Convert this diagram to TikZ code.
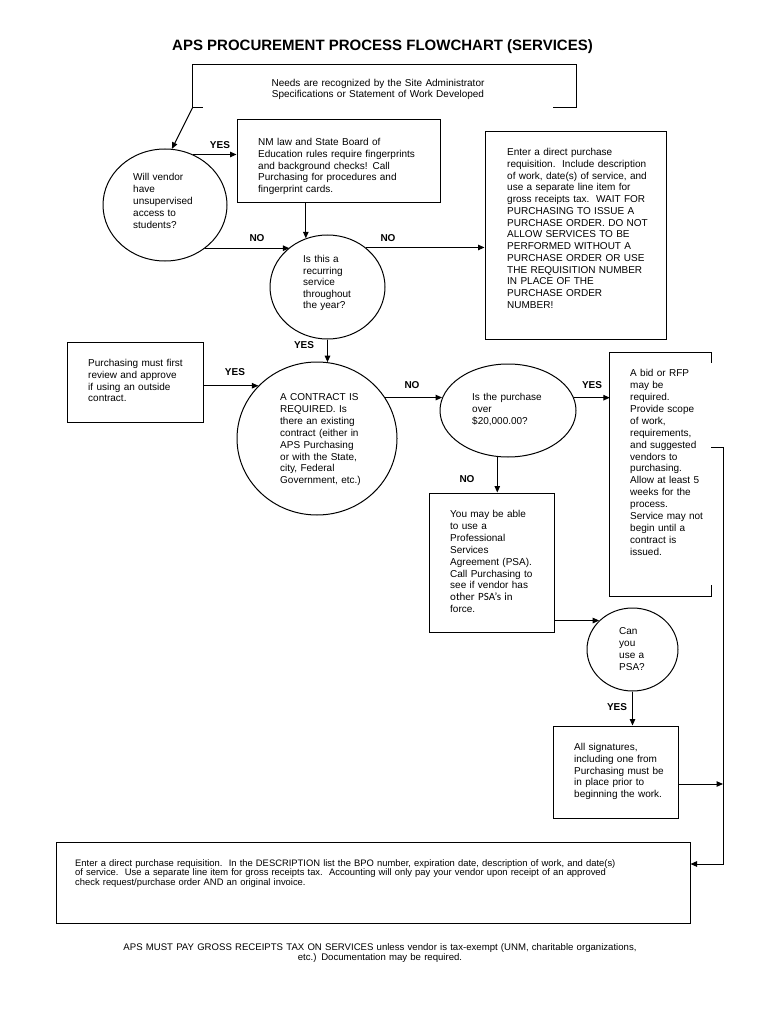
\documentclass[tikz,border=0pt]{standalone}
\usepackage{fontspec}
\setmainfont{Liberation Sans}
\newfontfamily\calfont{Carlito}
\usetikzlibrary{shapes.geometric,arrows.meta,calc}
\begin{document}
\begin{tikzpicture}[x=1pt,y=-1pt,
  ln/.style={line width=1pt},
  arr/.style={ln,-{Triangle[length=6.5pt,width=5.5pt]}},
  box/.style={draw,ln,rectangle,inner sep=0pt},
  oval/.style={draw,ln,ellipse,inner sep=0pt},
  ghost/.style={rectangle,inner sep=0pt},
  txt/.style={inner sep=0pt,anchor=base west,align=left,text width=#1,font=\fontsize{10}{11.8}\selectfont},
  txt/.default=200pt,
  lab/.style={inner sep=0pt,font=\fontsize{10}{12}\selectfont\bfseries}
]
\useasboundingbox (0,0) rectangle (768,1024);
\fill[white] (0,0) rectangle (768,1024);

% title
\node[inner sep=0pt,anchor=base,font=\fontsize{15}{18}\selectfont\bfseries] (title) at (382.5,51) {APS PROCUREMENT PROCESS FLOWCHART (SERVICES)};

% needs bracket
\node[ghost,minimum width=383pt,minimum height=42pt] (needs) at (384.5,86) {};
\draw[ln] ($(needs.south west)+(10,0)$) -- (needs.south west) -- (needs.north west) -- (needs.north east) -- (needs.south east) -- ++(-23,0);
\node[txt=300pt,align=center,anchor=base,font=\fontsize{10}{11}\selectfont] (needst) at (378,87) {Needs are recognized by the Site Administrator\\Specifications or Statement of Work Developed};

% shapes
\node[oval,minimum width=124pt,minimum height=112pt] (c1) at (165,205) {};
\node[box,minimum width=203pt,minimum height=83pt] (nm) at (338.5,161.5) {};
\node[oval,minimum width=115pt,minimum height=104pt] (c2) at (327.5,287) {};
\node[box,minimum width=181pt,minimum height=207pt] (bigr) at (575.5,235.5) {};
\node[box,minimum width=136pt,minimum height=80pt] (lb) at (135,382) {};
\node[oval,minimum width=160pt,minimum height=153pt] (cont) at (317,438.5) {};
\node[oval,minimum width=136pt,minimum height=93pt] (pur) at (508,410.5) {};
\node[ghost,minimum width=101pt,minimum height=243pt] (bid) at (660.5,474.5) {};
\draw[ln] ($(bid.north east)+(0,10)$) -- (bid.north east) -- (bid.north west) -- (bid.south west) -- (bid.south east) -- ++(0,-11);
\node[box,minimum width=125pt,minimum height=139pt] (psab) at (491.5,562.5) {};
\node[oval,minimum width=91pt,minimum height=83pt] (psac) at (632.5,649.5) {};
\node[box,minimum width=125pt,minimum height=92pt] (sig) at (615.5,772) {};
\node[box,minimum width=634pt,minimum height=81pt] (bot) at (373,882.5) {};

% texts
\node[txt] (c1t) at (133,181) {Will vendor\\have\\unsupervised\\access to\\students?};
\node[txt] (nmt) at (258,145.5) {NM law and State Board of\\Education rules require fingerprints\\and background checks! Call\\Purchasing for procedures and\\fingerprint cards.};
\node[txt,font=\fontsize{10}{11.6}\selectfont] (c2t) at (303,262.5) {Is this a\\recurring\\service\\throughout\\the year?};
\node[txt,font=\fontsize{10}{11.77}\selectfont] (bigrt) at (507,155.5) {Enter a direct purchase\\requisition.\ \ Include description\\of work, date(s) of service, and\\use a separate line item for\\gross receipts tax.\ \ WAIT FOR\\PURCHASING TO ISSUE A\\PURCHASE ORDER. DO NOT\\ALLOW SERVICES TO BE\\PERFORMED WITHOUT A\\PURCHASE ORDER OR USE\\THE REQUISITION NUMBER\\IN PLACE OF THE\\PURCHASE ORDER\\NUMBER!};
\node[txt] (lbt) at (88,366.5) {Purchasing must first\\review and approve\\if using an outside\\contract.};
\node[txt,font=\fontsize{10}{11.9}\selectfont] (contt) at (280,400.5) {A CONTRACT IS\\REQUIRED. Is\\there an existing\\contract (either in\\APS Purchasing\\or with the State,\\city, Federal\\Government, etc.)};
\node[txt,font=\fontsize{10}{12}\selectfont] (purt) at (472,400.5) {Is the purchase\\over\\\$20,000.00?};
\node[txt,font=\fontsize{10}{11.93}\selectfont] (bidt) at (630,376.5) {A bid or RFP\\may be\\required.\\Provide scope\\of work,\\requirements,\\and suggested\\vendors to\\purchasing.\\Allow at least 5\\weeks for the\\process.\\Service may not\\begin until a\\contract is\\issued.};
\node[txt,font=\fontsize{10}{11.9}\selectfont] (psabt) at (450,517.5) {You may be able\\to use a\\Professional\\Services\\Agreement (PSA).\\Call Purchasing to\\see if vendor has\\{\calfont\fontsize{11}{11.9}\selectfont other PSA’s in}\\force.};
\node[txt,font=\fontsize{10}{12}\selectfont] (psact) at (619,634.5) {Can\\you\\use a\\PSA?};
\node[txt] (sigt) at (574,750.5) {All signatures,\\including one from\\Purchasing must be\\in place prior to\\beginning the work.};
\node[txt=640pt,font=\fontsize{9.4}{9.7}\selectfont] (bott) at (75,866) {Enter a direct purchase requisition.\ \ In the DESCRIPTION list the BPO number, expiration date, description of work, and date(s)\\of service.\ \ Use a separate line item for gross receipts tax.\ \ Accounting will only pay your vendor upon receipt of an approved\\check request/purchase order AND an original invoice.};
\node[txt=640pt,align=center,anchor=base,font=\fontsize{9.6}{9.6}\selectfont] (note) at (380,950.5) {APS MUST PAY GROSS RECEIPTS TAX ON SERVICES unless vendor is tax-exempt (UNM, charitable organizations,\\etc.) Documentation may be required.};

% labels
\node[lab] (l1) at (220,145) {YES};
\node[lab] (l2) at (257,238) {NO};
\node[lab] (l3) at (388,238) {NO};
\node[lab] (l4) at (304,345) {YES};
\node[lab] (l5) at (235,372) {YES};
\node[lab] (l6) at (412,385) {NO};
\node[lab] (l7) at (592,385) {YES};
\node[lab] (l8) at (467,479) {NO};
\node[lab] (l9) at (617,707) {YES};

% connectors
\coordinate (rt) at (723,447);
\coordinate (rb) at (723,864);
\coordinate (j1) at (723,784);
\draw[arr] (needs.south west) -- (c1.83);
\draw[arr] (c1.61) -- (c1.61 -| nm.west);
\draw[arr] (nm.south -| c2.114) -- (c2.114);
\draw[arr] (c1.-47) -- (c1.-47 -| c2.134);
\draw[arr] (c2.46) -- (c2.46 -| bigr.west);
\draw[arr] (c2.south) -- (c2.south |- cont.82);
\draw[arr] (cont.138 -| lb.east) -- (cont.138);
\draw[arr] (cont.31) -- (cont.31 -| pur.169);
\draw[arr] (pur.11) -- (pur.11 -| bid.west);
\draw[arr] (pur.-103) -- (pur.-103 |- psab.north);
\draw[arr] (psac.139 -| psab.east) -- (psac.139);
\draw[arr] (psac.south) -- (psac.south |- sig.north);
\draw[arr] (j1 -| sig.east) -- (j1);
\draw[arr] (bid.east |- rt) -- (rt) -- (rb) -- (rb -| bot.east);
\end{tikzpicture}
\end{document}
